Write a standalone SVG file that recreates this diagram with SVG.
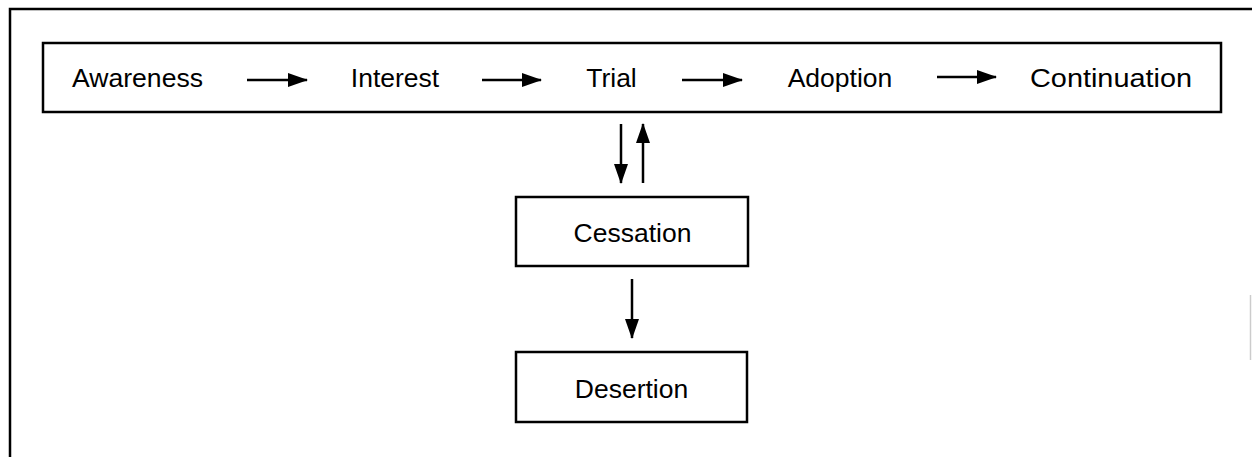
<svg xmlns="http://www.w3.org/2000/svg" width="1252" height="457" viewBox="0 0 1252 457">
<defs>
<style>
.box{fill:#fff;stroke:#000;stroke-width:2.5}
.lbl{font-family:"Liberation Sans",Arial,sans-serif;font-size:26.5px;fill:#000;text-anchor:middle}
.con{stroke:#000;stroke-width:2.5;fill:none;marker-end:url(#ah)}
</style>
<marker id="ah" viewBox="0 0 20 14" refX="19" refY="7" markerWidth="20" markerHeight="14" markerUnits="userSpaceOnUse" orient="auto">
<path d="M0,0 L20,7 L0,14 Z" fill="#000"/>
</marker>
</defs>
<rect width="1252" height="457" fill="#fff"/>
<g id="frame">
<path d="M10,457 V9 H1252" fill="none" stroke="#000" stroke-width="2.5"/>
<line x1="1250.5" y1="295" x2="1250.5" y2="360" stroke="#ccc" stroke-width="1.5"/>
</g>
<g id="stages">
<rect class="box" x="43" y="43" width="1178" height="69"/>
</g>
<g id="awareness"><text class="lbl" x="137.5" y="87" textLength="131" lengthAdjust="spacingAndGlyphs">Awareness</text></g>
<g id="interest"><text class="lbl" x="395" y="87">Interest</text></g>
<g id="trial"><text class="lbl" x="611.5" y="87">Trial</text></g>
<g id="adoption"><text class="lbl" x="840" y="87">Adoption</text></g>
<g id="continuation"><text class="lbl" x="1111" y="87" textLength="162" lengthAdjust="spacingAndGlyphs">Continuation</text></g>
<g id="cessation">
<rect class="box" x="516" y="197" width="232" height="69"/>
<text class="lbl" x="632.5" y="242">Cessation</text>
</g>
<g id="desertion">
<rect class="box" x="516" y="352" width="231" height="70"/>
<text class="lbl" x="631.5" y="398">Desertion</text>
</g>
<g id="connectors">
<line class="con" x1="247" y1="80" x2="307" y2="80"/>
<line class="con" x1="482" y1="80" x2="541" y2="80"/>
<line class="con" x1="682" y1="80" x2="742" y2="80"/>
<line class="con" x1="937" y1="77" x2="996" y2="77"/>
<line class="con" x1="621" y1="124" x2="621" y2="183"/>
<line class="con" x1="643" y1="183" x2="643" y2="124"/>
<line class="con" x1="632" y1="279" x2="632" y2="338"/>
</g>
</svg>
